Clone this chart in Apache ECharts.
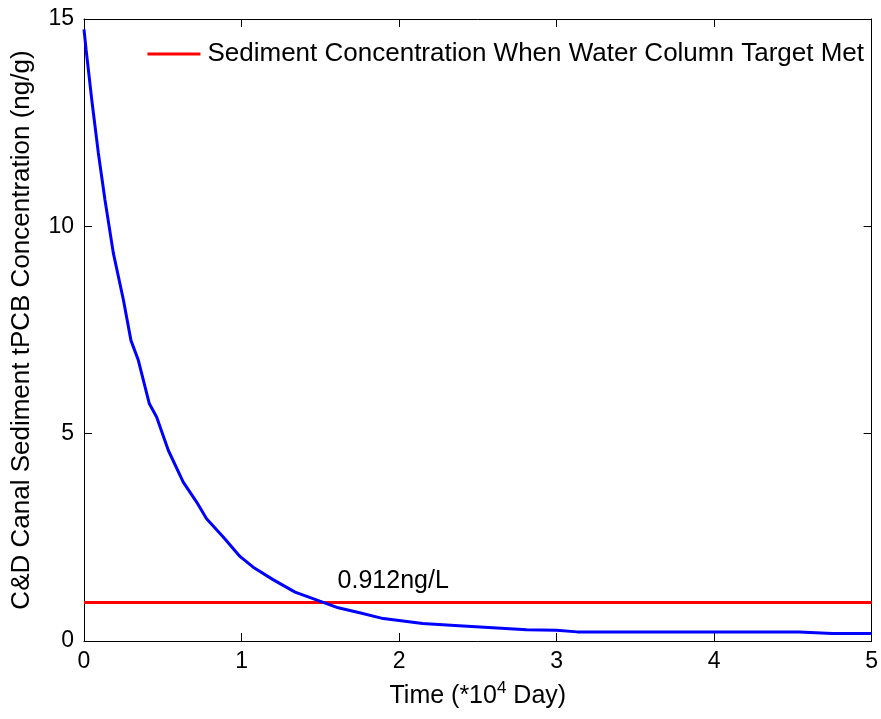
<!DOCTYPE html>
<html>
<head>
<meta charset="utf-8">
<script src="https://cdn.jsdelivr.net/npm/echarts@6/dist/echarts.min.js"></script>
<style>
html,body{margin:0;padding:0;background:#fff;}
#chart{width:881px;height:719px;}
</style>
</head>
<body>
<div id="chart"></div>
<script>
// Time (*10^4 day) and sediment concentration (ng/g)
var timeVals = [0, 0.013, 0.049, 0.091, 0.133, 0.186, 0.25, 0.298, 0.345, 0.415, 0.461, 0.535, 0.63, 0.715, 0.778, 0.884, 0.99, 1.074, 1.2, 1.34, 1.497, 1.614, 1.75, 1.9, 2.15, 2.38, 2.81, 3.0, 3.13, 4.54, 4.75, 5.0];
var concVals = [14.75, 14.27, 13.06, 11.77, 10.64, 9.36, 8.23, 7.25, 6.77, 5.72, 5.40, 4.60, 3.83, 3.35, 2.95, 2.51, 2.04, 1.78, 1.48, 1.18, 0.96, 0.80, 0.68, 0.54, 0.42, 0.37, 0.27, 0.26, 0.22, 0.22, 0.18, 0.18];
var targetX = [0, 5];
var targetVal = 0.93;
var targetName = 'Sediment Concentration When Water Column Target Met';
var annotText = '0.912ng/L';
var annotPos = [1.61, 1.44];
var xTicks = [0, 1, 2, 3, 4, 5];
var yTicks = [0, 5, 10, 15];

var FONT = '"Liberation Sans", Arial, Helvetica, sans-serif';
var chart = echarts.init(document.getElementById('chart'));

var curve = timeVals.map(function (t, i) { return [t, concVals[i]]; });
var target = targetX.map(function (t) { return [t, targetVal]; });

var axisCommon = {
  type: 'value',
  axisLine: { show: true, onZero: false, lineStyle: { color: '#000', width: 1 } },
  axisTick: { show: true, inside: true, length: 8, lineStyle: { color: '#000', width: 1 } },
  splitLine: { show: false }
};

function mkX(pos, showLabel) {
  return Object.assign({}, axisCommon, {
    position: pos, min: xTicks[0], max: xTicks[xTicks.length - 1], interval: 1,
    axisLabel: { show: showLabel, color: '#000', fontSize: 23, fontFamily: FONT, margin: 9 },
    name: showLabel ? '{a|Time (*10}{s|4}{a| Day)}' : '',
    nameLocation: 'middle', nameGap: 39,
    nameTextStyle: { rich: {
      a: { fontSize: 25, fontFamily: FONT, color: '#000', verticalAlign: 'bottom', lineHeight: 29 },
      s: { fontSize: 17, fontFamily: FONT, color: '#000', verticalAlign: 'top', padding: [0, 0, 12, 0], lineHeight: 29 }
    } }
  });
}
function mkY(pos, showLabel) {
  return Object.assign({}, axisCommon, {
    position: pos, min: yTicks[0], max: yTicks[yTicks.length - 1], interval: 5,
    axisLabel: { show: showLabel, color: '#000', fontSize: 23, fontFamily: FONT, margin: 10 },
    name: showLabel ? 'C&D Canal Sediment tPCB Concentration (ng/g)' : '',
    nameLocation: 'middle', nameGap: 49,
    nameTextStyle: { fontSize: 26, fontFamily: FONT, color: '#000' }
  });
}

chart.setOption({
  animation: false,
  backgroundColor: '#fff',
  grid: { left: 84, right: 8, top: 19, bottom: 78, containLabel: false },
  xAxis: [mkX('bottom', true), mkX('top', false)],
  yAxis: [mkY('left', true), mkY('right', false)],
  legend: {
    show: true,
    data: [{ name: targetName, icon: 'rect' }],
    right: 12, top: 36,
    itemWidth: 53, itemHeight: 3, itemGap: 10,
    textStyle: { fontSize: 26, fontFamily: FONT, color: '#000', padding: [0, 0, 0, 2] },
    padding: 5
  },
  series: [
    {
      name: 'conc', type: 'line', data: curve, symbol: 'none', smooth: false,
      lineStyle: { color: '#0000ff', width: 3 }, itemStyle: { color: '#0000ff' },
      xAxisIndex: 0, yAxisIndex: 0, z: 3
    },
    {
      name: targetName, type: 'line', data: target, symbol: 'none',
      lineStyle: { color: '#ff0000', width: 3 }, itemStyle: { color: '#ff0000' },
      xAxisIndex: 0, yAxisIndex: 0, z: 2
    },
    {
      name: 'annot', type: 'scatter', data: [annotPos], symbolSize: 0,
      itemStyle: { opacity: 1, color: 'rgba(0,0,0,0)' },
      label: { show: true, position: 'right', distance: 0, formatter: annotText,
               fontSize: 25, fontFamily: FONT, color: '#000', opacity: 1 },
      xAxisIndex: 0, yAxisIndex: 0, silent: true
    }
  ]
});
</script>
</body>
</html>
